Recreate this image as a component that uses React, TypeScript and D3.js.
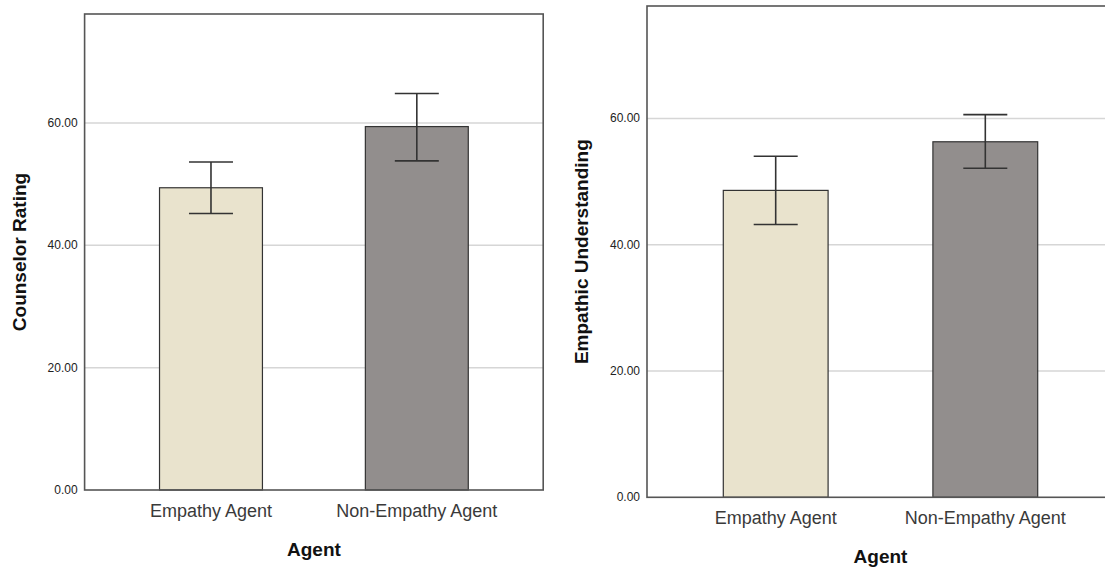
import * as d3 from "d3";

const agents = ["Empathy Agent", "Non-Empathy Agent"];
const barColors = ["#e9e3cd", "#928e8d"];

const counselorMeans = [49.4, 59.4];
const counselorLow = [45.2, 53.8];
const counselorHigh = [53.6, 64.8];

const empathicMeans = [48.6, 56.3];
const empathicLow = [43.2, 52.1];
const empathicHigh = [54.0, 60.6];

const yTicks = [0, 20, 40, 60];
const yMax = 77.8;

type PanelProps = {
  x0: number;
  y0: number;
  w: number;
  h: number;
  yTitle: string;
  yTitleX: number;
  means: number[];
  low: number[];
  high: number[];
};

function Panel({ x0, y0, w, h, yTitle, yTitleX, means, low, high }: PanelProps) {
  const x = d3
    .scaleBand<string>()
    .domain(agents)
    .range([x0, x0 + w])
    .paddingInner(0.5)
    .paddingOuter(0.364);

  const y = d3.scaleLinear().domain([0, yMax]).range([y0 + h, y0]);
  const capHalf = 22;
  const midY = y0 + h / 2;

  return (
    <g>
      {yTicks
        .filter((t) => t > 0)
        .map((t) => (
          <line
            key={"g" + t}
            x1={x0}
            x2={x0 + w}
            y1={y(t)}
            y2={y(t)}
            stroke="#d6d6d6"
            strokeWidth={1.5}
          />
        ))}
      {yTicks.map((t) => (
        <text
          key={"t" + t}
          x={x0 - 7}
          y={y(t) + 4}
          textAnchor="end"
          fontSize={12}
          fill="#222"
        >
          {d3.format(".2f")(t)}
        </text>
      ))}
      {agents.map((a, i) => {
        const bx = x(a) ?? 0;
        const cx = bx + x.bandwidth() / 2;
        return (
          <g key={a}>
            <rect
              x={bx}
              y={y(means[i])}
              width={x.bandwidth()}
              height={y(0) - y(means[i])}
              fill={barColors[i]}
              stroke="#333"
              strokeWidth={1.2}
            />
            <line x1={cx} x2={cx} y1={y(high[i])} y2={y(low[i])} stroke="#333" strokeWidth={1.6} />
            <line
              x1={cx - capHalf}
              x2={cx + capHalf}
              y1={y(high[i])}
              y2={y(high[i])}
              stroke="#333"
              strokeWidth={1.6}
            />
            <line
              x1={cx - capHalf}
              x2={cx + capHalf}
              y1={y(low[i])}
              y2={y(low[i])}
              stroke="#333"
              strokeWidth={1.6}
            />
            <text x={cx} y={y0 + h + 27} textAnchor="middle" fontSize={18} fill="#3a3a3a">
              {a}
            </text>
          </g>
        );
      })}
      <rect x={x0} y={y0} width={w} height={h} fill="none" stroke="#555" strokeWidth={1.6} />
      <text
        x={x0 + w / 2}
        y={y0 + h + 66}
        textAnchor="middle"
        fontSize={19}
        fontWeight="bold"
        fill="#111"
      >
        Agent
      </text>
      <text
        transform={`translate(${yTitleX},${midY}) rotate(-90)`}
        textAnchor="middle"
        fontSize={19}
        fontWeight="bold"
        fill="#111"
      >
        {yTitle}
      </text>
    </g>
  );
}

export default function App() {
  return (
    <svg
      width={1105}
      height={569}
      style={{ position: "absolute", left: 0, top: 0, background: "#fff" }}
      fontFamily="Liberation Sans, Arial, sans-serif"
    >
      <Panel
        x0={84.6}
        y0={14}
        w={458.6}
        h={476}
        yTitle="Counselor Rating"
        yTitleX={26}
        means={counselorMeans}
        low={counselorLow}
        high={counselorHigh}
      />
      <Panel
        x0={647}
        y0={6}
        w={467}
        h={491.3}
        yTitle="Empathic Understanding"
        yTitleX={588}
        means={empathicMeans}
        low={empathicLow}
        high={empathicHigh}
      />
    </svg>
  );
}
